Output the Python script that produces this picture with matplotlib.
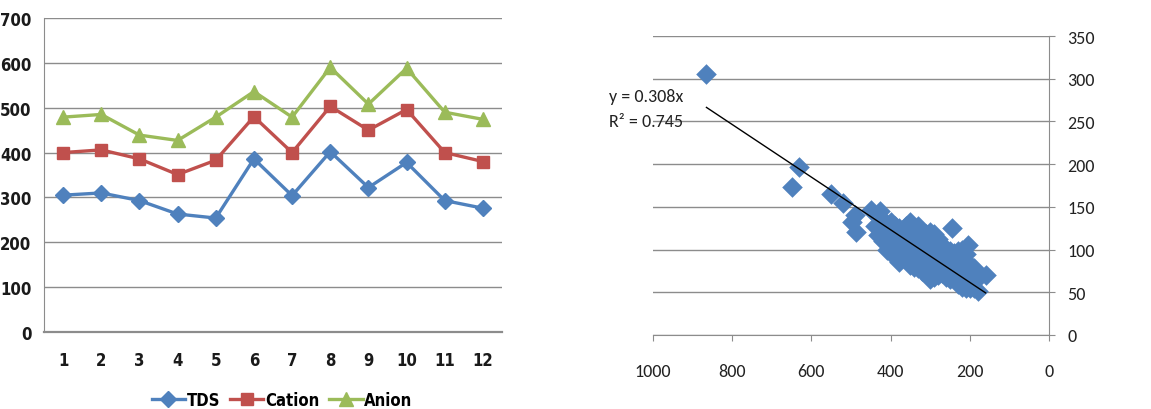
import matplotlib
matplotlib.use("Agg")
import matplotlib.pyplot as plt
import numpy as np

# ---- Left chart data ----
samples = [1, 2, 3, 4, 5, 6, 7, 8, 9, 10, 11, 12]
tds = [305, 310, 293, 263, 254, 386, 304, 402, 322, 378, 293, 276]
cation = [400, 406, 386, 351, 383, 480, 400, 503, 450, 496, 400, 380]
anion = [479, 485, 439, 427, 479, 536, 479, 590, 508, 588, 490, 474]
left_yticks = [0, 100, 200, 300, 400, 500, 600, 700]

# ---- Right chart data (scatter) ----
scatter_x = [865, 632, 648, 550, 520, 490, 497, 487, 450, 440, 428, 432, 245, 205, 160, 180,
             420, 420, 420, 410, 410, 410, 400, 400, 400, 400, 400,
             390, 390, 390, 390, 380, 380, 380, 380, 380,
             370, 370, 370, 370, 370, 360, 360, 360, 360, 360, 360,
             350, 350, 350, 350, 350, 350, 340, 340, 340, 340, 340, 340,
             330, 330, 330, 330, 330, 330, 320, 320, 320, 320, 320, 320,
             310, 310, 310, 310, 310, 310, 300, 300, 300, 300, 300, 300, 300,
             290, 290, 290, 290, 290, 290, 280, 280, 280, 280, 280, 280,
             270, 270, 270, 270, 270, 260, 260, 260, 260, 260,
             250, 250, 250, 250, 250, 240, 240, 240, 240, 240,
             230, 230, 230, 230, 230, 230, 220, 220, 220, 220, 220, 220,
             210, 210, 210, 210, 210, 210, 200, 200, 200, 200, 200,
             190, 190, 190, 190]
scatter_y = [305, 197, 173, 165, 155, 140, 132, 120, 146, 128, 145, 117, 125, 105, 70, 52,
             135, 118, 110, 128, 100, 112, 125, 105, 96, 115, 132,
             120, 108, 98, 128, 85, 110, 118, 100, 125,
             92, 105, 115, 122, 98, 88, 100, 110, 120, 128, 95,
             82, 95, 105, 115, 125, 132, 80, 90, 100, 110, 118, 126,
             78, 88, 98, 108, 116, 128, 75, 85, 95, 105, 112, 122,
             72, 82, 92, 100, 110, 118, 65, 78, 88, 96, 105, 115, 120,
             68, 80, 90, 98, 108, 118, 70, 78, 86, 95, 104, 112,
             72, 80, 88, 96, 105, 68, 76, 84, 92, 100,
             66, 75, 82, 90, 98, 65, 72, 80, 88, 96,
             60, 68, 76, 84, 92, 98, 56, 64, 72, 80, 88, 100,
             55, 62, 70, 78, 86, 95, 55, 60, 68, 75, 82,
             55, 62, 70, 78]
trend_slope = 0.308
trend_r2 = 0.745
right_yticks = [0, 50, 100, 150, 200, 250, 300, 350]
right_xticks = [0, 200, 400, 600, 800, 1000]

blue = "#4F81BD"
red = "#C0504D"
green = "#9BBB59"
grid_c = "#8c8c8c"

narrow = ["DejaVu Sans"]
sans = ["Carlito", "Liberation Sans", "DejaVu Sans"]
nfont = {"family": narrow, "size": 12, "stretch": "condensed", "weight": "bold"}

fig = plt.figure(figsize=(11.51, 4.10), dpi=100)

# ---- Left axes ----
ax1 = fig.add_axes([44/1151, 1-333/410, (502-44)/1151, (333-19)/410])
ax1.plot(samples, tds, color=blue, lw=2.4, marker="D", ms=8, label="TDS")
ax1.plot(samples, cation, color=red, lw=2.4, marker="s", ms=9, label="Cation")
ax1.plot(samples, anion, color=green, lw=2.4, marker="^", ms=10, label="Anion")
ax1.set_xlim(0.5, 12.5)
ax1.set_ylim(0, 700)
ax1.set_yticks(left_yticks)
ax1.set_xticks(samples)
ax1.set_yticklabels([str(v) for v in left_yticks], fontdict=nfont, color="#1a1a1a")
ax1.set_xticklabels([str(v) for v in samples], fontdict=nfont, color="#1a1a1a")
ax1.tick_params(axis="y", length=0, pad=9)
ax1.tick_params(axis="x", length=0, pad=14)
ax1.grid(axis="y", color=grid_c, lw=1.0)
ax1.set_axisbelow(True)
for s in ["top", "right"]:
    ax1.spines[s].set_visible(False)
ax1.spines["left"].set_color(grid_c)
ax1.spines["bottom"].set_color(grid_c)
ax1.spines["bottom"].set_linewidth(1.6)
leg = ax1.legend(loc="center", bbox_to_anchor=(0.52, -0.215), ncol=3, frameon=False,
                 prop=nfont, handlelength=2.0, handletextpad=0.1, columnspacing=0.6)

# ---- Right axes ----
ax2 = fig.add_axes([653/1151, 1-336/410, (1049-653)/1151, (336-37)/410])
ax2.scatter(scatter_x, scatter_y, marker="D", s=110, color=blue, linewidths=0, zorder=3)
xs = np.array([max(scatter_x), min(scatter_x)])
ax2.plot(xs, trend_slope * xs, color="black", lw=1.0, zorder=4)
ax2.set_xlim(1000, 0)
ax2.set_ylim(0, 350)
ax2.set_yticks(right_yticks)
ax2.set_xticks(right_xticks)
ax2.yaxis.tick_right()
ax2.set_yticklabels([str(v) for v in right_yticks], family=sans, fontsize=13, color="#222222")
ax2.set_xticklabels([str(v) for v in right_xticks], family=sans, fontsize=13, color="#222222")
ax2.tick_params(axis="y", length=4, color=grid_c, pad=9)
ax2.tick_params(axis="x", length=4, color=grid_c, pad=16)
ax2.grid(axis="y", color=grid_c, lw=1.0)
ax2.set_axisbelow(True)
for s in ["top", "left"]:
    ax2.spines[s].set_visible(False)
ax2.spines["right"].set_color(grid_c)
ax2.spines["bottom"].set_color(grid_c)
ax2.text(-0.11, 0.80, f"y = {trend_slope}x", transform=ax2.transAxes,
         family=sans, fontsize=13, color="#222222", va="center")
ax2.text(-0.11, 0.715, f"R\u00b2 = {trend_r2}", transform=ax2.transAxes,
         family=sans, fontsize=13, color="#222222", va="center")

fig.savefig("out.png", dpi=100)
